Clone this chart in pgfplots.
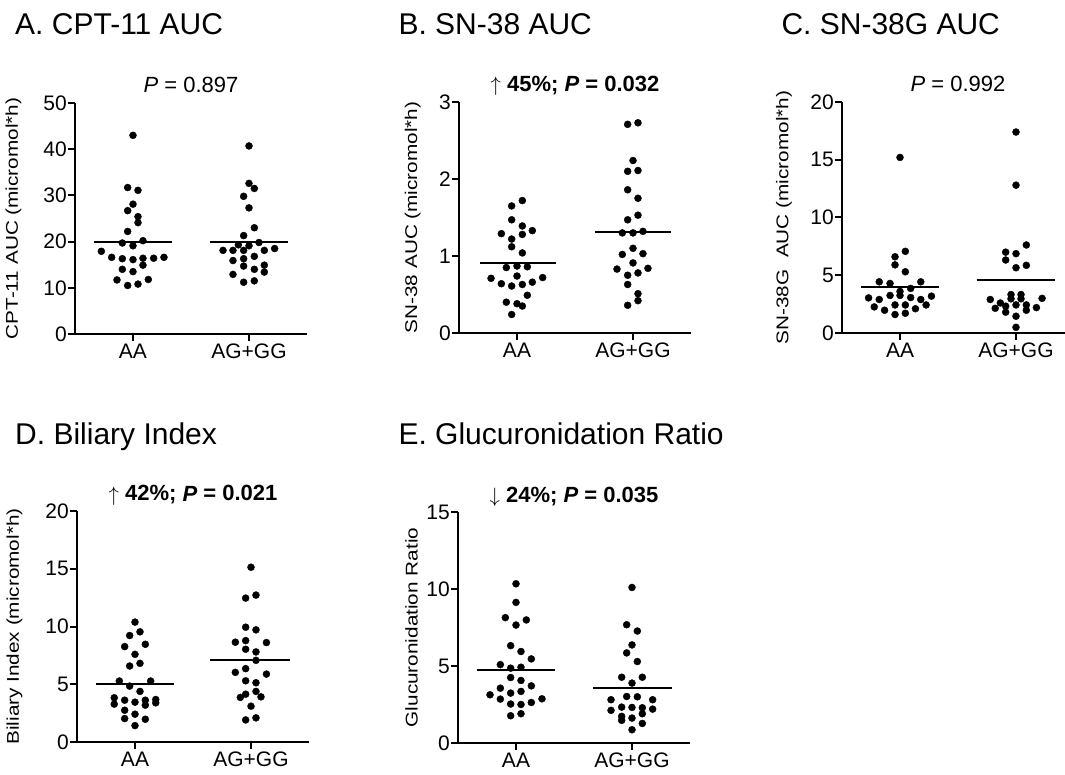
\documentclass[border=0pt]{standalone}
\usepackage{fontspec}
\setmainfont{Liberation Sans}
\usepackage{graphicx}
\usepackage{pgfplots}
\pgfplotsset{compat=1.18}

\newcommand{\ylab}[1]{\fontsize{17}{19}\selectfont\scalebox{1.22}[1]{#1}}

\pgfplotsset{
  prism/.style={
    scale only axis, width=232pt, height=231pt,
    xmin=0.5, xmax=2.5, ymin=0,
    xtick={1,2}, xticklabels={AA,AG+GG},
    axis x line*=bottom, axis y line*=left,
    axis line style={line width=2pt, -},
    tick style={line width=2pt, black},
    major tick length=7pt, tick align=outside,
    minor tick num=0,
    clip=false,
    /pgf/number format/assume math mode=true,
    tick label style={font=\fontsize{21}{25}\selectfont},
    yticklabel style={inner sep=1pt},
    xticklabel style={inner sep=3pt},
    ylabel style={anchor=center, rotate=0},
  },
  dots/.style={only marks, mark=*, mark size=3.5pt, black},
  mean/.style={black, line width=2pt, no marks},
}

\newcommand{\ptext}[1]{\node[anchor=base, font=\fontsize{22}{26}\selectfont] at (axis description cs:0.5,1) [yshift=10pt] {#1};}

\begin{document}
\begin{tikzpicture}
\path[use as bounding box] (0,0) rectangle (1065pt,774pt);
\clip (0,0) rectangle (1065pt,774pt);

\tikzset{title/.style={anchor=base west, font=\fontsize{30}{36}\selectfont}}
\node[title] at (11.7pt,739pt) {A. CPT-11 AUC};
\node[title] at (395pt,739pt) {B. SN-38 AUC};
\node[title] at (778pt,739pt) {C. SN-38G AUC};
\node[title] at (11.7pt,329pt) {D. Biliary Index};
\node[title] at (395pt,329pt) {E. Glucuronidation Ratio};

% A. CPT-11 AUC
\begin{axis}[prism, at={(75pt,440pt)}, anchor=south west,
  ymax=50, ytick={0,10,...,50},
  ylabel={\ylab{CPT-11 AUC (micromol*h)}},
  ylabel style={at={(axis description cs:-0.265,0.5)}}]
\addplot[dots] coordinates {
 (1.0,43.0) (0.954,31.7) (1.043,31.1) (1.0,28.1) (0.954,26.7) (1.043,25.4)
 (1.043,24.1) (0.954,22.2) (0.908,19.7) (1.086,20.2) (1.0,19.1) (0.727,17.9)
 (0.816,16.6) (0.908,16.3) (1.0,16.1) (1.086,16.4) (1.178,16.4) (1.267,16.6)
 (1.086,14.9) (0.908,14.0) (1.0,13.5) (0.862,11.7) (1.132,11.8) (0.954,10.5)
 (1.043,10.8)};
\addplot[dots] coordinates {
 (2.0,40.7) (2.0,32.6) (2.046,31.5) (1.954,29.8) (2.0,27.3) (2.046,23.0)
 (1.954,21.3) (1.908,19.3) (2.0,19.1) (2.086,19.8) (1.776,18.1) (1.862,18.1)
 (1.954,18.1) (2.132,18.1) (2.221,18.5) (1.862,15.9) (1.954,16.3) (2.046,16.8)
 (1.954,14.7) (2.132,14.9) (2.046,14.0) (2.132,13.4) (1.862,12.9) (1.954,11.2)
 (2.046,11.5)};
\addplot[mean] coordinates {(0.66,19.9) (1.34,19.9)};
\addplot[mean] coordinates {(1.66,19.95) (2.34,19.95)};
\ptext{\textit{P} = 0.897}
\end{axis}

% B. SN-38 AUC
\begin{axis}[prism, at={(459pt,441pt)}, anchor=south west,
  ymax=3, ytick={0,1,2,3},
  ylabel={\ylab{SN-38 AUC (micromol*h)}},
  ylabel style={at={(axis description cs:-0.2,0.5)}}]
\addplot[dots] coordinates {
 (1.046,1.72) (0.954,1.65) (0.954,1.47) (1.046,1.39) (0.865,1.29) (1.046,1.28)
 (1.132,1.33) (0.954,1.22) (0.954,1.12) (1.046,1.04) (0.908,0.85) (1.0,0.87)
 (1.089,0.86) (0.776,0.71) (0.865,0.64) (0.954,0.61) (1.0,0.74) (1.046,0.63)
 (1.132,0.66) (1.221,0.72) (1.089,0.49) (0.908,0.40) (1.0,0.38) (1.046,0.35)
 (0.954,0.24)};
\addplot[dots] coordinates {
 (1.954,2.71) (2.043,2.73) (2.0,2.24) (1.954,2.10) (2.043,2.11) (1.954,1.86)
 (2.043,1.75) (1.954,1.47) (2.043,1.53) (1.908,1.30) (2.0,1.30) (2.086,1.32)
 (2.0,1.10) (1.908,1.02) (2.086,1.03) (2.0,0.91) (1.862,0.83) (2.129,0.84)
 (1.954,0.75) (2.043,0.78) (1.954,0.63) (2.043,0.51) (1.954,0.36) (2.043,0.42)};
\addplot[mean] coordinates {(0.68,0.91) (1.34,0.91)};
\addplot[mean] coordinates {(1.67,1.31) (2.33,1.31)};
\ptext{$\uparrow$ \textbf{45\%; \textit{P} = 0.032}}
\end{axis}

% C. SN-38G AUC
\begin{axis}[prism, at={(842pt,441pt)}, anchor=south west,
  ymax=20, ytick={0,5,...,20},
  ylabel={\ylab{SN-38G\ \ AUC (micromol*h)}},
  ylabel style={at={(axis description cs:-0.25,0.5)}}]
\addplot[dots] coordinates {
 (1.0,15.2) (1.046,7.07) (0.957,6.6) (0.957,5.9) (1.046,5.3) (0.821,4.43)
 (0.914,4.29) (1.179,4.43) (1.092,3.86) (1.0,3.6) (1.0,3.25) (0.729,3.04)
 (0.821,2.9) (0.914,3.25) (1.092,3.07) (1.179,2.9) (1.271,3.19) (0.778,2.26)
 (0.957,2.43) (1.046,2.43) (1.225,2.43) (0.867,1.97) (1.133,2.1) (0.957,1.6)
 (1.046,1.71)};
\addplot[dots] coordinates {
 (2.0,17.4) (2.0,12.8) (2.089,7.62) (1.911,7.0) (2.0,6.87) (1.911,6.32)
 (2.0,5.65) (2.089,5.86) (1.957,3.33) (2.043,3.33) (1.778,2.9) (1.865,2.6)
 (1.957,2.96) (2.043,2.96) (2.225,3.0) (1.821,2.14) (1.911,2.32) (2.0,2.43)
 (2.089,2.43) (2.176,2.2) (1.911,1.8) (2.089,1.97) (2.0,1.45) (2.0,0.49)};
\addplot[mean] coordinates {(0.665,4.0) (1.34,4.0)};
\addplot[mean] coordinates {(1.66,4.58) (2.34,4.58)};
\ptext{\textit{P} = 0.992}
\end{axis}

% D. Biliary Index
\begin{axis}[prism, at={(77pt,32pt)}, anchor=south west,
  ymax=20, ytick={0,5,...,20},
  ylabel={\ylab{Biliary Index (micromol*h)}},
  ylabel style={at={(axis description cs:-0.27,0.5)}}]
\addplot[dots] coordinates {
 (1.0,10.38) (0.954,9.22) (1.043,9.54) (0.911,8.26) (1.089,8.46) (1.0,7.59)
 (0.954,6.58) (1.043,6.81) (0.865,5.28) (0.954,4.84) (1.135,5.28) (1.043,4.38)
 (0.821,3.83) (0.911,3.62) (1.0,3.45) (1.089,3.62) (1.179,3.68) (0.821,3.28)
 (1.089,3.19) (1.179,3.39) (0.911,2.75) (1.0,2.41) (0.911,2.03) (1.089,1.97)
 (1.0,1.42)};
\addplot[dots] coordinates {
 (2.0,15.13) (1.954,12.46) (2.043,12.72) (1.954,9.94) (2.043,9.71) (1.865,8.64)
 (1.954,8.78) (2.133,8.61) (1.954,8.03) (2.043,7.8) (2.043,7.07) (1.865,6.03)
 (1.954,6.35) (2.133,5.88) (1.954,5.3) (2.043,5.13) (2.043,4.38) (1.954,4.14)
 (1.908,3.86) (2.086,3.91) (2.0,3.10) (1.954,1.91) (2.043,2.09)};
\addplot[mean] coordinates {(0.663,4.99) (1.337,4.99)};
\addplot[mean] coordinates {(1.65,7.1) (2.335,7.1)};
\ptext{$\uparrow$ \textbf{42\%; \textit{P} = 0.021}}
\end{axis}

% E. Glucuronidation Ratio
\begin{axis}[prism, at={(458pt,31pt)}, anchor=south west,
  ymax=15, ytick={0,5,...,15},
  ylabel={\ylab{Glucuronidation Ratio}},
  ylabel style={at={(axis description cs:-0.2,0.5)}}]
\addplot[dots] coordinates {
 (1.0,10.34) (1.0,9.13) (0.908,8.14) (1.089,7.99) (1.0,7.66) (0.954,6.32)
 (1.043,5.94) (1.132,5.46) (0.865,5.09) (0.954,4.86) (1.043,4.92) (0.954,4.25)
 (1.043,4.06) (1.132,3.71) (0.865,3.56) (1.043,3.35) (0.776,3.13) (0.954,3.24)
 (0.865,2.85) (1.224,2.87) (0.954,2.53) (1.043,2.50) (1.132,2.63) (0.954,1.77)
 (1.043,1.90)};
\addplot[dots] coordinates {
 (2.0,10.1) (1.954,7.68) (2.046,7.27) (2.0,6.37) (1.954,5.85) (2.046,5.29)
 (1.911,4.27) (2.089,4.27) (2.0,3.89) (1.819,2.81) (1.954,3.02) (2.046,3.0)
 (2.178,2.81) (1.819,2.12) (1.911,2.33) (2.0,2.31) (2.089,2.29) (2.178,2.2)
 (1.911,1.73) (2.089,1.9) (1.911,1.47) (2.0,1.62) (2.089,1.27) (2.0,0.86)};
\addplot[mean] coordinates {(0.66,4.73) (1.34,4.73)};
\addplot[mean] coordinates {(1.667,3.6) (2.345,3.6)};
\ptext{$\downarrow$ \textbf{24\%; \textit{P} = 0.035}}
\end{axis}
\end{tikzpicture}
\end{document}
